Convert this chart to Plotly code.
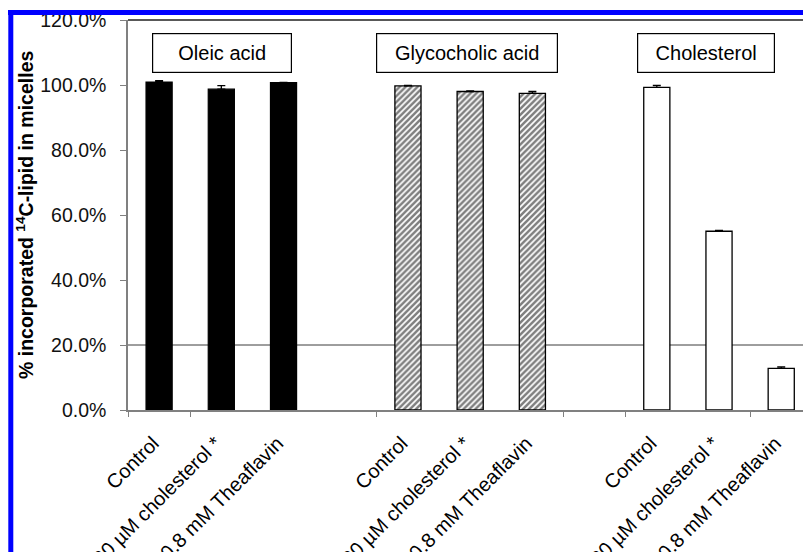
import plotly.graph_objects as go

# Treatments within each lipid group and the lipid groups themselves
treatments = ["Control", "+30 µM cholesterol *", "+0.8 mM Theaflavin"]
lipids = ["Oleic acid", "Glycocholic acid", "Cholesterol"]

# % of 14C-lipid incorporated into micelles (mean, upper error)
oleic_acid = [100.9, 98.7, 100.7]
oleic_acid_err = [0.4, 1.1, 0.1]
glycocholic_acid = [99.7, 98.0, 97.4]
glycocholic_acid_err = [0.2, 0.2, 0.6]
cholesterol = [99.3, 55.0, 12.8]
cholesterol_err = [0.6, 0.3, 0.5]

y_ticks = [0, 20, 40, 60, 80, 100, 120]

FONT = "Arial, Liberation Sans, sans-serif"
AXIS_GREY = "#808080"

# each lipid group takes 3 slots followed by one empty slot
slots = [[g * 4 + i for i in range(len(treatments))] for g in range(len(lipids))]
tick_positions = [p for grp in slots for p in grp]
tick_labels = treatments * len(lipids)

bar_width = 0.42
err_style = dict(type="data", symmetric=False, color="black", thickness=1.3, width=4)

fig = go.Figure()

fig.add_trace(go.Bar(
    x=slots[0], y=oleic_acid, width=bar_width, name=lipids[0],
    marker=dict(color="black", line=dict(color="black", width=1.2)),
    error_y=dict(array=oleic_acid_err, arrayminus=[0] * 3, **err_style),
))
fig.add_trace(go.Bar(
    x=slots[1], y=glycocholic_acid, width=bar_width, name=lipids[1],
    marker=dict(color="white", line=dict(color="black", width=1.3),
                pattern=dict(shape="/", fgcolor="black", bgcolor="white",
                             size=4.2, solidity=0.6, fillmode="overlay")),
    error_y=dict(array=glycocholic_acid_err, arrayminus=[0] * 3, **err_style),
))
fig.add_trace(go.Bar(
    x=slots[2], y=cholesterol, width=bar_width, name=lipids[2],
    marker=dict(color="white", line=dict(color="black", width=1.3)),
    error_y=dict(array=cholesterol_err, arrayminus=[0] * 3, **err_style),
))

x_range = [-0.5, 10.35]

# secondary x axis carries only the boundary tick marks
fig.add_trace(go.Scatter(x=[x_range[0]], y=[0], xaxis="x2", mode="markers",
                         marker=dict(opacity=0, size=1), hoverinfo="skip",
                         showlegend=False))

W, H = 803, 552
L, R, T, B = 128, 0, 20, 142
pw, ph = W - L - R, H - T - B


def px_x(px):
    return (px - L) / pw


def px_y(py):
    return (H - B - py) / ph


shapes = [
    # reference line at 20 %
    dict(type="line", xref="paper", yref="y", x0=0, x1=1, y0=20, y1=20,
         line=dict(color="#3c3c3c", width=1), layer="below"),
    # top frame of the plot area
    dict(type="line", xref="paper", yref="paper", x0=0, x1=1, y0=1, y1=1,
         line=dict(color="#202020", width=1.5)),
    # blue page frame
    dict(type="line", xref="paper", yref="paper", x0=px_x(8), x1=1.01,
         y0=px_y(12.5), y1=px_y(12.5), line=dict(color="#0000ff", width=5)),
    dict(type="line", xref="paper", yref="paper", x0=px_x(10.8), x1=px_x(10.8),
         y0=px_y(560), y1=px_y(10), line=dict(color="#0000ff", width=5)),
]

annotations = []
boxes = [(222, 136), (467, 178), (706, 134)]
for name, (cx, bw) in zip(lipids, boxes):
    annotations.append(dict(
        text=name, xref="paper", yref="paper", x=px_x(cx), y=px_y(53),
        showarrow=False, xanchor="center", yanchor="middle",
        width=bw, height=36, bordercolor="black", borderwidth=1.2, borderpad=1,
        bgcolor="white", font=dict(family=FONT, size=20, color="black"),
    ))

annotations.append(dict(
    text="<b>% incorporated <sup>14</sup>C-lipid in micelles</b>",
    xref="paper", yref="paper", x=px_x(25), y=px_y(215), textangle=-90,
    showarrow=False, xanchor="center", yanchor="middle",
    font=dict(family=FONT, size=19.5, color="black"),
))

fig.update_layout(
    width=W, height=H,
    margin=dict(l=L, r=R, t=T, b=B, pad=0, autoexpand=False),
    paper_bgcolor="white", plot_bgcolor="white",
    showlegend=False, barmode="overlay",
    font=dict(family=FONT, color="black"),
    xaxis=dict(
        range=x_range, tickmode="array", tickvals=tick_positions, ticktext=tick_labels,
        tickangle=-45, ticks="", showgrid=False, zeroline=False, automargin=False,
        ticklabelstandoff=12, ticklabelshift=-6,
        showline=True, linecolor=AXIS_GREY, linewidth=1.5,
        tickfont=dict(family=FONT, size=20, color="black"),
    ),
    xaxis2=dict(
        range=x_range, overlaying="x", anchor="y", side="bottom",
        tickmode="array", tickvals=[-0.5, 0.5, 3.5, 6.5, 7.5, 9.5],
        ticks="outside", ticklen=6, tickcolor=AXIS_GREY, tickwidth=1.3,
        showticklabels=False, showgrid=False, zeroline=False, showline=False,
        automargin=False,
    ),
    yaxis=dict(
        range=[0, 120], tickmode="array", tickvals=y_ticks,
        ticktext=[f"{v:.1f}%" for v in y_ticks],
        ticks="outside", ticklen=6, tickcolor=AXIS_GREY, tickwidth=1.3,
        ticklabelstandoff=10, automargin=False,
        showgrid=False, zeroline=False,
        showline=True, linecolor=AXIS_GREY, linewidth=1.5,
        tickfont=dict(family=FONT, size=19.5, color="#111111"),
    ),
    shapes=shapes,
    annotations=annotations,
)

fig.write_html("out.html")
